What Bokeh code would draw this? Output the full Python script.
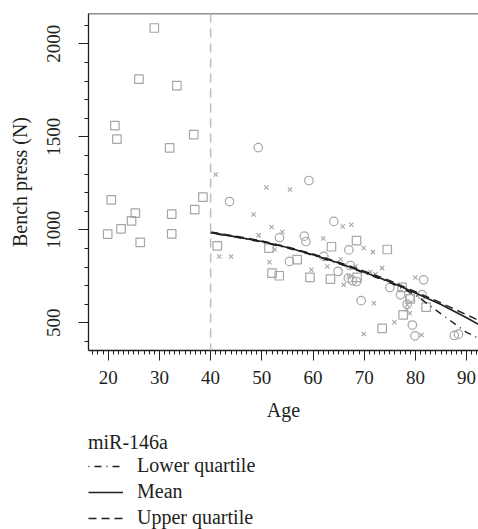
from bokeh.plotting import figure
from bokeh.layouts import column
from bokeh.models import Range1d, Span, Legend, LegendItem, FixedTicker
from bokeh.embed import file_html
from bokeh.resources import INLINE

# ---------------- data ----------------
sq_age = [29.0, 26.0, 33.4, 21.3, 21.7, 36.7, 32.0, 20.6, 38.5, 36.9, 25.3, 32.4,
          24.55, 22.5, 19.9, 32.4, 26.25,
          41.3, 51.4, 56.9, 52.0, 53.4, 63.6, 68.5, 74.5, 59.4, 63.4, 68.6, 77.4,
          79.0, 82.1, 77.6, 73.5]
sq_n = [2085, 1810, 1775, 1560, 1487, 1512, 1441, 1161, 1176, 1108, 1090, 1084,
        1048, 1005, 977, 978, 932,
        914, 902, 840, 767, 753, 909, 942, 894, 744, 735, 744, 690,
        629, 584, 543, 470]

ci_age = [43.7, 49.3, 59.2, 53.45, 55.4, 64.06, 58.3, 58.6, 67.0, 62.1, 67.3, 64.9,
          66.9, 67.7, 68.5, 81.6, 75.0, 77.1, 81.3, 69.4, 78.9, 78.4, 79.4, 79.9,
          87.6, 88.4]
ci_n = [1152, 1442, 1265, 958, 830, 1045, 966, 937, 892, 857, 808, 776,
        740, 727, 722, 731, 690, 651, 651, 619, 633, 600, 488, 430,
        432, 439]

x_age = [41.0, 50.9, 55.5, 48.4, 51.9, 49.4, 54.0, 41.7, 44.0, 52.5, 51.5, 65.8,
         67.5, 62.0, 69.9, 71.7, 65.4, 62.8, 59.7, 68.3, 71.2, 72.2, 73.5, 66.0,
         80.0, 71.9, 78.4, 78.3, 78.9, 75.9, 69.9, 81.2, 67.0]
x_n = [1297, 1227, 1217, 1082, 1015, 970, 988, 856, 856, 894, 826, 1018,
       1027, 953, 902, 880, 842, 803, 785, 803, 773, 762, 794, 704,
       744, 605, 597, 570, 551, 503, 440, 434, 749]

curve_age = [40, 45, 50, 55, 60, 65, 70, 75, 80, 85, 90, 92.3]
mean_n = [985, 962, 937, 905, 866, 821, 772, 721, 660, 598, 527, 492]
upper_n = [988, 966, 940, 908, 870, 826, 778, 727, 667, 607, 543, 514]
lower_n = [983, 960, 934, 902, 863, 818, 768, 716, 650, 548, 448, 418]

x_major = [20, 30, 40, 50, 60, 70, 80, 90]
x_minor = list(range(17, 93))
y_major = [500, 1000, 1500, 2000]
y_minor = list(range(400, 2200, 100))

legend_title = "miR-146a"
legend_labels = ["Lower quartile", "Mean", "Upper quartile"]

FONT = "Liberation Serif"
INK = "#231f20"
PT = "#a6a6a6"

p = figure(width=478, height=425, output_backend="svg",
           toolbar_location=None,
           x_range=Range1d(16.15, 92.32), y_range=Range1d(351.1, 2162.9),
           min_border_left=88, min_border_right=0, min_border_top=13,
           min_border_bottom=75)
p.outline_line_color = None
p.grid.visible = False
p.background_fill_color = "white"

for ax in (p.xaxis[0], p.yaxis[0]):
    ax.axis_line_color = INK
    ax.axis_line_width = 1.3
    ax.major_tick_line_color = INK
    ax.minor_tick_line_color = INK
    ax.major_tick_out = 10
    ax.major_tick_in = 0
    ax.minor_tick_out = 4
    ax.minor_tick_in = 0
    ax.major_label_text_font = FONT
    ax.major_label_text_font_size = "19px"
    ax.major_label_text_color = INK
    ax.axis_label_text_font = FONT
    ax.axis_label_text_font_size = "20px"
    ax.axis_label_text_font_style = "normal"
    ax.axis_label_text_color = INK

p.xaxis[0].ticker = FixedTicker(ticks=x_major, minor_ticks=x_minor)
p.yaxis[0].ticker = FixedTicker(ticks=y_major, minor_ticks=y_minor)
p.xaxis[0].axis_label = "Age"
p.yaxis[0].axis_label = "Bench press (N)"
p.yaxis[0].major_label_orientation = "vertical"
p.xaxis[0].major_label_standoff = 10
p.xaxis[0].axis_label_standoff = 12
p.yaxis[0].major_label_standoff = 18
p.yaxis[0].axis_label_standoff = 14

p.add_layout(Span(location=2162.9, dimension="width", line_color=INK, line_width=1.5))
p.add_layout(Span(location=40, dimension="height", line_color="#bdbdbd",
                  line_width=1.5, line_dash="9 6"))

p.scatter(sq_age, sq_n, marker="square", size=8.5, fill_color=None,
          line_color=PT, line_width=1.2)
p.scatter(ci_age, ci_n, marker="circle", size=8.5, fill_color=None,
          line_color=PT, line_width=1.2)
p.scatter(x_age, x_n, marker="x", size=6, line_color=PT, line_width=1.1)

LOW_DASH = "1 5 7 5"
UP_DASH = "8 5"
r_low = p.line(curve_age, lower_n, line_color=INK, line_width=1.4, line_dash=LOW_DASH)
r_mean = p.line(curve_age, mean_n, line_color=INK, line_width=1.6)
r_up = p.line(curve_age, upper_n, line_color=INK, line_width=1.4, line_dash=UP_DASH)

# legend panel below the chart (same curve data, drawn outside the visible range)
q = figure(width=478, height=104, output_backend="svg", toolbar_location=None,
           x_axis_location=None, y_axis_location=None,
           x_range=Range1d(0, 1), y_range=Range1d(0, 1),
           min_border_left=88, min_border_right=0, min_border_top=6,
           min_border_bottom=0)
q.outline_line_color = None
q.grid.visible = False
l_low = q.line(curve_age, lower_n, line_color=INK, line_width=1.4, line_dash=LOW_DASH)
l_mean = q.line(curve_age, mean_n, line_color=INK, line_width=1.6)
l_up = q.line(curve_age, upper_n, line_color=INK, line_width=1.4, line_dash=UP_DASH)

legend = Legend(items=[LegendItem(label=legend_labels[0], renderers=[l_low]),
                       LegendItem(label=legend_labels[1], renderers=[l_mean]),
                       LegendItem(label=legend_labels[2], renderers=[l_up])],
                title=legend_title, location="top_left", orientation="vertical")
legend.title_text_font = FONT
legend.title_text_font_size = "20px"
legend.title_text_font_style = "normal"
legend.title_text_color = INK
legend.label_text_font = FONT
legend.label_text_font_size = "20px"
legend.label_text_color = INK
legend.glyph_width = 35
legend.glyph_height = 20
legend.label_height = 20
legend.label_standoff = 14
legend.spacing = 3
legend.padding = 0
legend.margin = 0
legend.title_standoff = 0
legend.border_line_color = None
legend.background_fill_alpha = 0
q.add_layout(legend, "center")

layout = column(p, q, spacing=0)
open("out.html", "w").write(file_html(layout, INLINE))
